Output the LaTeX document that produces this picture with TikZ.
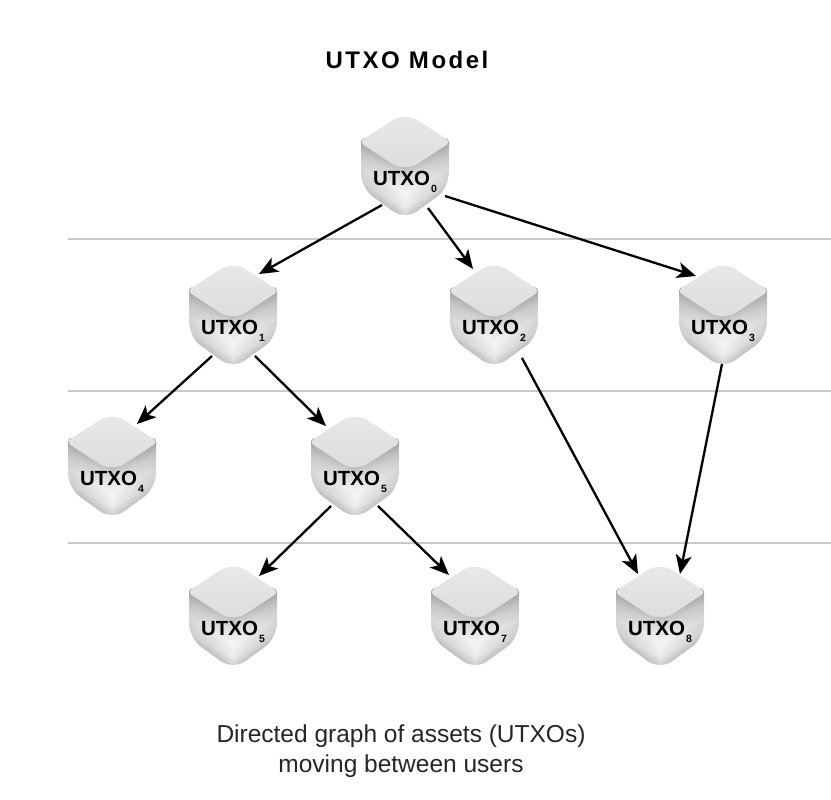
\documentclass[tikz,border=0pt]{standalone}
\usepackage{fontspec}
\usetikzlibrary{arrows.meta,fadings}
\setmainfont{Liberation Sans}
\newfontfamily\titlefont[LetterSpace=10.5]{Liberation Sans}
\definecolor{rulegrey}{HTML}{C9C9C9}
\definecolor{facegrey}{HTML}{DCDCDC}
\definecolor{facelight}{HTML}{E9E9E9}
\pgfdeclareverticalshading{sideband}{100bp}{
  color(0bp)=(black!28); color(41bp)=(black!28); color(47bp)=(black!8);
  color(52bp)=(black!4); color(57bp)=(black!12); color(62bp)=(black!28); color(100bp)=(black!28)}
\tikzset{
  x=1pt,y=-1pt,
  levelrule/.style={draw=rulegrey,line width=1.8pt},
  link/.style={draw=black,line width=2.3pt,-{Stealth[length=19pt,width=16pt,inset=5pt]}},
  anchorbox/.style={minimum width=88pt,minimum height=98pt,inner sep=0pt},
  cubetext/.style={font=\fontsize{20.5}{21}\selectfont\bfseries,text=black,inner sep=0pt},
  cubetop/.style={top color=facelight,bottom color=facegrey},
}
\newcommand{\utxocube}[4]{%
  \begin{scope}
    \clip[rounded corners=15pt] (#2-44,#3-28) -- (#2-44,#3+22) -- (#2,#3+54) -- (#2+44,#3+22) [rounded corners=4pt] -- (#2+44,#3-28) -- cycle;
    \shade[shading=sideband,shading angle=-30] (#2-82,#3-40) rectangle (#2+38,#3+80);
    \begin{scope}
      \clip (#2,#3-40) rectangle (#2+50,#3+60);
      \shade[shading=sideband,shading angle=30] (#2-38,#3-40) rectangle (#2+82,#3+80);
    \end{scope}
    \fill[black,opacity=.12,path fading=east] (#2-44,#3-40) rectangle (#2,#3+60);
    \fill[black,opacity=.12,path fading=west] (#2,#3-40) rectangle (#2+44,#3+60);
  \end{scope}
  \shade[cubetop,rounded corners=6pt] (#2-46,#3-24) [rounded corners=15pt] -- (#2,#3-54) [rounded corners=6pt] -- (#2+46,#3-24) [rounded corners=15pt] -- (#2,#3+6) [rounded corners=6pt] -- cycle;
  \node[anchorbox] (#1) at (#2,#3) {};
  \node[cubetext] (#1t) at (#2,#3+15.5) {UTXO\kern1pt\raisebox{-7pt}{\fontsize{10.5}{11}\selectfont #4}};
}
\begin{document}
\begin{tikzpicture}
\useasboundingbox (0,0) rectangle (831,800);
\fill[white] (0,0) rectangle (831,800);
\draw[levelrule] (68,239) -- (831,239);
\draw[levelrule] (68,391) -- (831,391);
\draw[levelrule] (68,543) -- (831,543);
\node[font=\fontsize{24}{26}\selectfont\titlefont\bfseries,inner sep=0pt] (title) at (407,60) {UTXO Model};
\utxocube{n0}{405}{166}{0}
\utxocube{n1}{233}{315}{1}
\utxocube{n2}{494}{315}{2}
\utxocube{n3}{723}{315}{3}
\utxocube{n4}{112}{466}{4}
\utxocube{n5}{355}{466}{5}
\utxocube{n6}{233}{616}{5}
\utxocube{n7}{475}{616}{7}
\utxocube{n8}{660}{616}{8}
\draw[link] ([shift={(-23,39)}]n0.center) -- ([shift={(26,-41)}]n1.center);
\draw[link] ([shift={(23,42)}]n0.center) -- ([shift={(-21,-46)}]n2.center);
\draw[link] ([shift={(40,30)}]n0.center) -- ([shift={(-27,-39)}]n3.center);
\draw[link] ([shift={(-21,41)}]n1.center) -- ([shift={(25,-42)}]n4.center);
\draw[link] ([shift={(22,41)}]n1.center) -- ([shift={(-29,-40)}]n5.center);
\draw[link] ([shift={(28,43)}]n2.center) -- ([shift={(-22,-42)}]n8.center);
\draw[link] ([shift={(-1,49)}]n3.center) -- ([shift={(20,-42)}]n8.center);
\draw[link] ([shift={(-24,40)}]n5.center) -- ([shift={(26,-40)}]n6.center);
\draw[link] ([shift={(23,40)}]n5.center) -- ([shift={(-26,-41)}]n7.center);
\node[align=center,font=\fontsize{24.5}{30}\selectfont,text=black!85,inner sep=0pt] (caption) at (401,751) {Directed graph of assets (UTXOs)\\moving between users};
\end{tikzpicture}
\end{document}
